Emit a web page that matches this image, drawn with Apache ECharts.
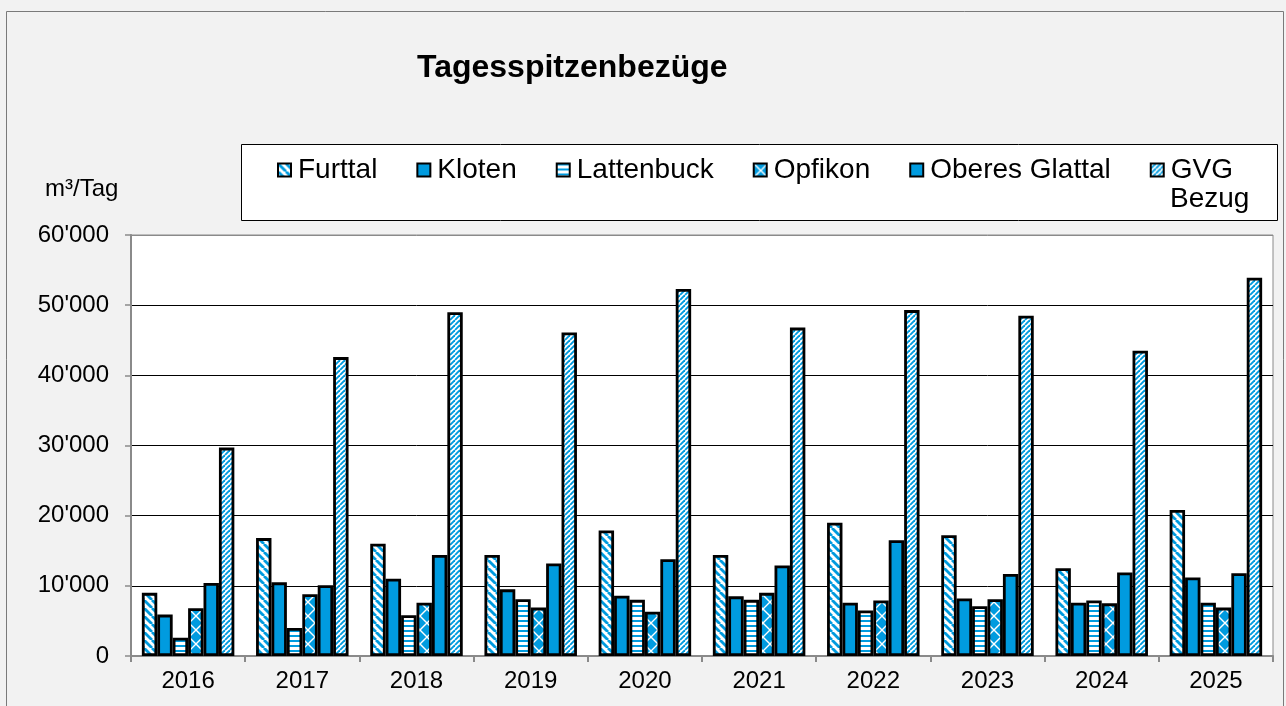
<!DOCTYPE html>
<html>
<head>
<meta charset="utf-8">
<title>Tagesspitzenbezüge</title>
<script src="https://cdn.jsdelivr.net/npm/echarts@6/dist/echarts.min.js"></script>
<style>
  html, body { margin: 0; padding: 0; background: #f2f2f2; }
  #chart { width: 1286px; height: 706px; }
</style>
</head>
<body>
<div id="chart"></div>
<script>
// Werte (m³/Tag)
const years = ["2016", "2017", "2018", "2019", "2020", "2021", "2022", "2023", "2024", "2025"];
const furttal = [9000, 16800, 16000, 14400, 17900, 14400, 19000, 17200, 12500, 20800];
const kloten = [5900, 10500, 11000, 9500, 8600, 8500, 7600, 8200, 7600, 11200];
const lattenbuck = [2600, 4000, 5800, 8100, 8000, 8000, 6500, 7100, 7900, 7600];
const opfikon = [6800, 8800, 7600, 6900, 6300, 9000, 7900, 8100, 7500, 6900];
const oberesGlattal = [10400, 10100, 14400, 13200, 13800, 12900, 16500, 11700, 11900, 11800];
const gvgBezug = [29700, 42600, 49000, 46100, 52300, 46800, 49300, 48500, 43500, 53900];
const yTicks = [0, 10000, 20000, 30000, 40000, 50000, 60000];

const BLUE = "#009bdf";
const FONT = '"Liberation Sans", Arial, sans-serif';

// Schraffuren als Canvas-Muster
const makePattern = (w, h, draw) => {
  const c = document.createElement("canvas");
  c.width = w;
  c.height = h;
  const ctx = c.getContext("2d");
  draw(ctx, w, h);
  return { image: c, repeat: "repeat" };
};

const diagDown = makePattern(8, 8, (ctx, w, h) => {
  ctx.fillStyle = "#fff";
  ctx.fillRect(0, 0, w, h);
  ctx.strokeStyle = BLUE;
  ctx.lineWidth = 2.8;
  for (let k = -1; k <= 1; k++) {
    ctx.beginPath();
    ctx.moveTo(k * w, 0);
    ctx.lineTo(k * w + w, h);
    ctx.stroke();
  }
});

const diagUp = makePattern(5, 5, (ctx, w, h) => {
  ctx.fillStyle = "#fff";
  ctx.fillRect(0, 0, w, h);
  ctx.strokeStyle = BLUE;
  ctx.lineWidth = 1.9;
  for (let k = -1; k <= 1; k++) {
    ctx.beginPath();
    ctx.moveTo(k * w, h);
    ctx.lineTo(k * w + w, 0);
    ctx.stroke();
  }
});

const horiz = makePattern(8, 5, (ctx, w, h) => {
  ctx.fillStyle = "#fff";
  ctx.fillRect(0, 0, w, h);
  ctx.fillStyle = BLUE;
  ctx.fillRect(0, 0, w, 2);
});

const lattice = makePattern(14, 14, (ctx, w, h) => {
  ctx.fillStyle = BLUE;
  ctx.fillRect(0, 0, w, h);
  ctx.strokeStyle = "#fff";
  ctx.lineWidth = 1.4;
  ctx.beginPath();
  ctx.moveTo(0, 0);
  ctx.lineTo(w, h);
  ctx.moveTo(w, 0);
  ctx.lineTo(0, h);
  ctx.stroke();
});

const fmt = (v) => String(v).replace(/\B(?=(\d{3})+(?!\d))/g, "'");

const bar = (name, data, fill) => ({
  name: name,
  type: "bar",
  data: data,
  barGap: "0%",
  barCategoryGap: "19%",
  itemStyle: { color: fill, borderColor: "#000", borderWidth: 2.8 },
  emphasis: { disabled: true },
});

const chart = echarts.init(document.getElementById("chart"));

const option = {
  animation: false,
  backgroundColor: "#f2f2f2",
  textStyle: { fontFamily: FONT, color: "#000" },
  title: {
    text: "Tagesspitzenbezüge",
    left: 412,
    top: 47,
    textStyle: { fontSize: 32, fontWeight: "bold", color: "#000", fontFamily: FONT },
  },
  graphic: [
    {
      type: "rect",
      z: 0,
      shape: { x: 6.5, y: 11.5, width: 1277, height: 720 },
      style: { fill: "none", stroke: "#7a7a7a", lineWidth: 1 },
    },
    {
      type: "rect",
      z: 1,
      shape: { x: 241.5, y: 144.5, width: 1036, height: 76 },
      style: { fill: "#fff", stroke: "#000", lineWidth: 1 },
    },
    {
      type: "text",
      z: 5,
      left: 1170,
      top: 185,
      style: { text: "Bezug", fontSize: 28, fontFamily: FONT, fill: "#000" },
    },
    {
      type: "text",
      z: 5,
      left: 45,
      top: 177,
      style: { text: "m³/Tag", fontSize: 24, fontFamily: FONT, fill: "#000" },
    },
  ],
  legend: {
    left: 272,
    top: 151,
    z: 5,
    itemGap: 39,
    itemWidth: 13,
    itemHeight: 13,
    icon: "rect",
    selectedMode: false,
    itemStyle: { borderColor: "#000", borderWidth: 2 },
    textStyle: { fontSize: 28, color: "#000", fontFamily: FONT, padding: [0, 0, 0, 2] },
    formatter: (name) => (name === "GVG Bezug" ? "GVG" : name),
  },
  grid: {
    left: 131,
    right: 13,
    top: 235,
    bottom: 50,
    show: true,
    backgroundColor: "#fff",
    borderColor: "#8a8a8a",
    borderWidth: 1,
  },
  xAxis: {
    type: "category",
    data: years,
    axisLine: { lineStyle: { color: "#8a8a8a", width: 2 } },
    axisTick: { show: true, length: 6, lineStyle: { color: "#8a8a8a", width: 2 } },
    axisLabel: { fontSize: 24, color: "#000", margin: 13, fontFamily: FONT },
  },
  yAxis: {
    type: "value",
    min: yTicks[0],
    max: yTicks[yTicks.length - 1],
    interval: 10000,
    axisLine: { show: true, lineStyle: { color: "#8a8a8a", width: 2 } },
    axisTick: { show: true, length: 6, lineStyle: { color: "#8a8a8a", width: 1.5 } },
    axisLabel: { fontSize: 24, color: "#000", margin: 22, formatter: fmt, fontFamily: FONT },
    splitLine: {
      lineStyle: {
        color: ["#000", "#000", "#000", "#000", "#000", "#000", "#8a8a8a"],
        width: 1,
      },
    },
  },
  series: [
    bar("Furttal", furttal, diagDown),
    bar("Kloten", kloten, BLUE),
    bar("Lattenbuck", lattenbuck, horiz),
    bar("Opfikon", opfikon, lattice),
    bar("Oberes Glattal", oberesGlattal, BLUE),
    bar("GVG Bezug", gvgBezug, diagUp),
  ],
};

chart.setOption(option);
</script>
</body>
</html>
